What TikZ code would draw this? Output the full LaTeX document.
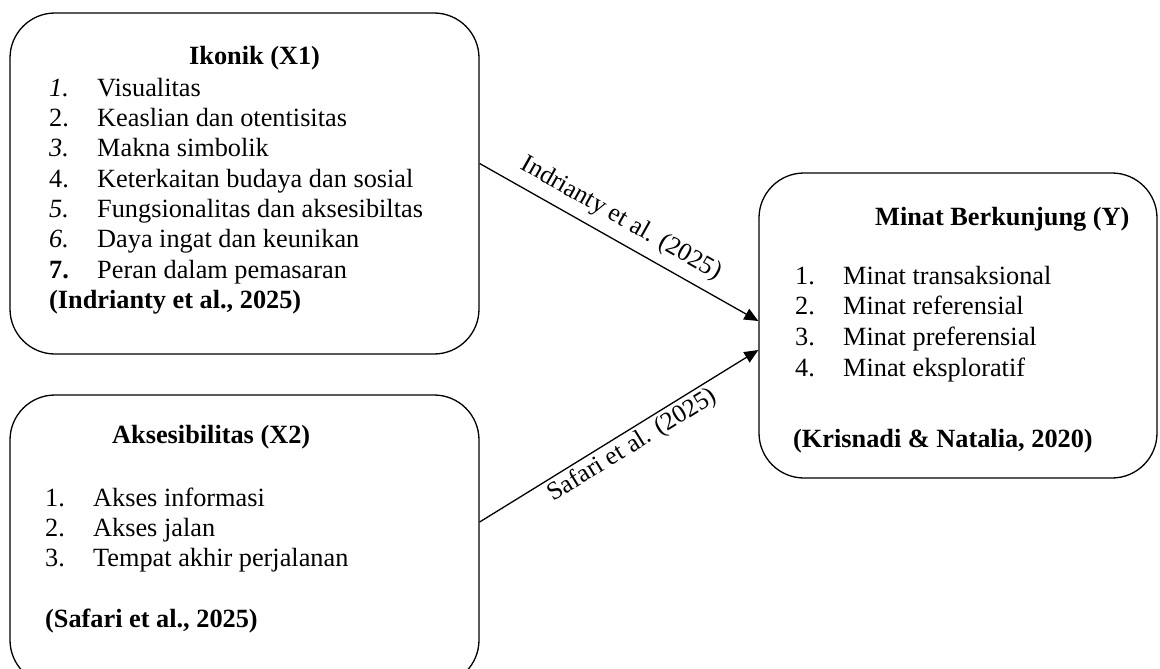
\documentclass[tikz,border=0pt]{standalone}
\usepackage{fontspec}
\setmainfont{Liberation Serif}
\usetikzlibrary{arrows.meta}
\begin{document}
\begin{tikzpicture}[x=1pt,y=-1pt,
  box/.style={draw, line width=1.3pt, rounded corners=45pt, inner sep=0pt},
  txt/.style={anchor=base west, inner sep=0pt, font=\fontsize{26.3}{30.4}\selectfont},
  ttl/.style={anchor=base west, inner sep=0pt, font=\fontsize{26.3}{30.4}\selectfont\bfseries},
  arr/.style={line width=1.3pt, -{Triangle[length=14pt,width=12pt]}},
  lbl/.style={sloped, inner sep=2pt, font=\fontsize{25.5}{30}\selectfont}]
\useasboundingbox (0,0) rectangle (1160,669);
% boxes
\node[box, minimum width=469pt, minimum height=341pt] (x1) at (244.5,183.5) {};
\node[box, minimum width=469pt, minimum height=290pt] (x2) at (244.5,540) {};
\node[box, minimum width=398pt, minimum height=305pt] (y) at (958,325.5) {};
% box 1
\node[ttl] (t1) at (189,65) {Ikonik (X1)};
\node[txt] (l1) at (49,96) {\begin{tabular}[t]{@{}p{48pt}@{}l@{}}
\textit{1.} & Visualitas\\
2. & Keaslian dan otentisitas\\
\textit{3.} & Makna simbolik\\
4. & Keterkaitan budaya dan sosial\\
\textit{5.} & Fungsionalitas dan aksesibiltas\\
\textit{6.} & Daya ingat dan keunikan\\
\textbf{7.} & Peran dalam pemasaran\\
\multicolumn{2}{@{}l@{}}{\textbf{(Indrianty et al., 2025)}}
\end{tabular}};
% box 2
\node[ttl] (t2) at (112,443) {Aksesibilitas (X2)};
\node[txt, font=\fontsize{26.3}{30.3}\selectfont] (l2) at (45,506) {\begin{tabular}[t]{@{}p{48pt}@{}l@{}}
1. & Akses informasi\\
2. & Akses jalan\\
3. & Tempat akhir perjalanan\\
 & \\
\multicolumn{2}{@{}l@{}}{\textbf{(Safari et al., 2025)}}
\end{tabular}};
% box 3
\node[ttl] (t3) at (875,225) {Minat Berkunjung (Y)};
\node[txt, font=\fontsize{26.3}{30.7}\selectfont] (l3) at (795,284) {\begin{tabular}[t]{@{}p{48pt}@{}l@{}}
1. & Minat transaksional\\
2. & Minat referensial\\
3. & Minat preferensial\\
4. & Minat eksploratif
\end{tabular}};
\node[ttl] (r3) at (793,447) {(Krisnadi \& Natalia, 2020)};
% arrows
\draw[arr] ([yshift=20pt]x1.east) -- node[lbl, above=7pt, pos=0.47] (la) {Indrianty et al. (2025)} ([yshift=4.5pt]y.west);
\draw[arr] ([yshift=18pt]x2.east) -- node[lbl, below=1pt, pos=0.52] (lb) {Safari et al. (2025)} ([yshift=-24.5pt]y.west);
\end{tikzpicture}
\end{document}
